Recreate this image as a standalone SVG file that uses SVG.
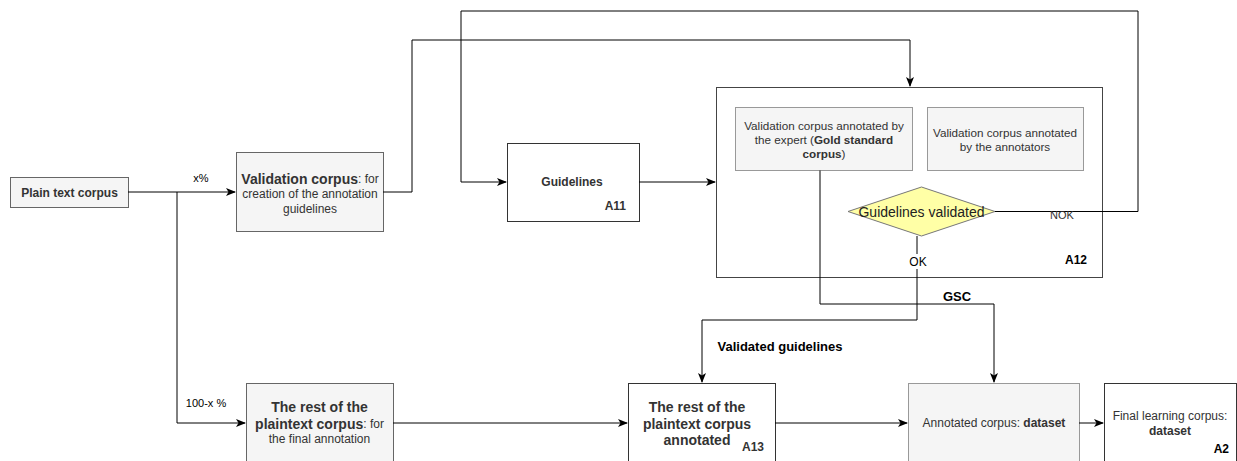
<svg xmlns="http://www.w3.org/2000/svg" width="1237" height="461" viewBox="0 0 1237 461">
<style>
.grey{fill:#f5f5f5;stroke:#666;stroke-width:1}
.white{fill:#fff;stroke:#333;stroke-width:1}
.frame{fill:none;stroke:#444;stroke-width:1}
.t{font-family:"Liberation Sans",Arial,sans-serif;fill:#333;text-anchor:middle;dominant-baseline:central}
.s11{font-size:11px}
.s12{font-size:12px}
.s13{font-size:13px}
.s14{font-size:14px}
.b{font-weight:bold}
.dk{fill:#000}
.edge{fill:none;stroke:#000;stroke-width:1}
</style>
<defs>
<marker id="arr" viewBox="0 0 10 8" refX="9" refY="4" markerWidth="10" markerHeight="8" markerUnits="userSpaceOnUse" orient="auto">
<path d="M0,0 L10,4 L0,8 L2.5,4 z" fill="#000"/>
</marker>
</defs>
<rect width="1237" height="461" fill="#fff"/>

<g id="plain">
<rect class="grey" x="10.5" y="177.5" width="118" height="30"/>
<text class="t s12 b" x="69.5" y="192.5">Plain text corpus</text>
</g>

<g id="validation">
<rect class="grey" x="236.5" y="152.5" width="147" height="79"/>
<text class="t s12" x="310" y="179"><tspan class="s14 b">Validation corpus</tspan>: for</text>
<text class="t s12" x="310" y="194">creation of the annotation</text>
<text class="t s12" x="310" y="209">guidelines</text>
</g>

<g id="guidelines">
<rect class="white" x="507.5" y="143.5" width="132" height="78"/>
<text class="t s12 b" x="572" y="182">Guidelines</text>
<text class="t s12 b" x="626" y="206" style="text-anchor:end">A11</text>
</g>

<g id="a12">
<rect class="frame" x="716.5" y="87.5" width="386" height="190"/>
<rect class="grey" x="735.5" y="107.5" width="177" height="63" style="stroke:#999"/>
<text class="t" style="font-size:11.7px" x="824" y="125">Validation corpus annotated by</text>
<text class="t" style="font-size:11.7px" x="824" y="139">the expert (<tspan class="b">Gold standard</tspan></text>
<text class="t" style="font-size:11.7px" x="824" y="153"><tspan class="b">corpus</tspan>)</text>
<rect class="grey" x="927.5" y="107.5" width="156" height="63" style="stroke:#999"/>
<text class="t" style="font-size:11.7px" x="1005" y="132">Validation corpus annotated</text>
<text class="t" style="font-size:11.7px" x="1005" y="146">by the annotators</text>
<text class="t s12 b dk" x="1087" y="260" style="text-anchor:end">A12</text>
</g>

<g id="rest">
<rect class="grey" x="246.5" y="383.5" width="147" height="90"/>
<text class="t s14 b" x="319.5" y="407">The rest of the</text>
<text class="t s12" x="319.5" y="424"><tspan class="s14 b">plaintext corpus</tspan>: for</text>
<text class="t s12" x="319.5" y="439">the final annotation</text>
</g>

<g id="a13">
<rect class="white" x="628.5" y="383.5" width="147" height="90"/>
<text class="t s14 b" x="697" y="407">The rest of the</text>
<text class="t s14 b" x="697" y="424">plaintext corpus</text>
<text class="t s14 b" x="697" y="440">annotated</text>
<text class="t s12 b" x="764" y="447" style="text-anchor:end">A13</text>
</g>

<g id="annotated">
<rect class="grey" x="908.5" y="383.5" width="171" height="90" style="stroke:#999"/>
<text class="t s12" x="994" y="423">Annotated corpus: <tspan class="b">dataset</tspan></text>
</g>

<g id="final">
<rect class="white" x="1104.5" y="383.5" width="132" height="90"/>
<text class="t s12" x="1170" y="416">Final learning corpus:</text>
<text class="t s12 b" x="1170" y="431">dataset</text>
<text class="t s12 b dk" x="1229" y="449" style="text-anchor:end">A2</text>
</g>

<g id="connectors">
<path class="edge" d="M128,192 H235" marker-end="url(#arr)"/>
<path class="edge" d="M177,192 V423 H245" marker-end="url(#arr)"/>
<path class="edge" d="M383,192 H412 V40 H910 V86" marker-end="url(#arr)"/>
<path class="edge" d="M995,211.5 H1138 V11 H461 V182 H506" marker-end="url(#arr)"/>
<path class="edge" d="M639,182 H715" marker-end="url(#arr)"/>
<path class="edge" d="M393,423 H627" marker-end="url(#arr)"/>
<path class="edge" d="M775,423 H907" marker-end="url(#arr)"/>
<path class="edge" d="M1079,423 H1103" marker-end="url(#arr)"/>
<path class="edge" d="M917,236 V320 H702 V382" marker-end="url(#arr)"/>
<path class="edge" d="M820,170.5 V304 H994 V382" marker-end="url(#arr)"/>
<rect x="906" y="254" width="24" height="15" fill="#fff"/>
<text class="t s12 dk" x="918" y="262">OK</text>
<text class="t s11" x="1062" y="215">NOK</text>
<text class="t s13 b dk" x="957" y="296">GSC</text>
<text class="t s13 b dk" x="780" y="346">Validated guidelines</text>
<text class="t s11 dk" x="201" y="178">x%</text>
<text class="t s11 dk" x="206" y="403">100-x %</text>
</g>

<g id="decision">
<polygon points="848,211.5 921.5,187 995,211.5 921.5,236" fill="#ffffa6" stroke="#777"/>
<text class="t s14" x="921.5" y="212" style="fill:#222">Guidelines validated</text>
</g>
</svg>
